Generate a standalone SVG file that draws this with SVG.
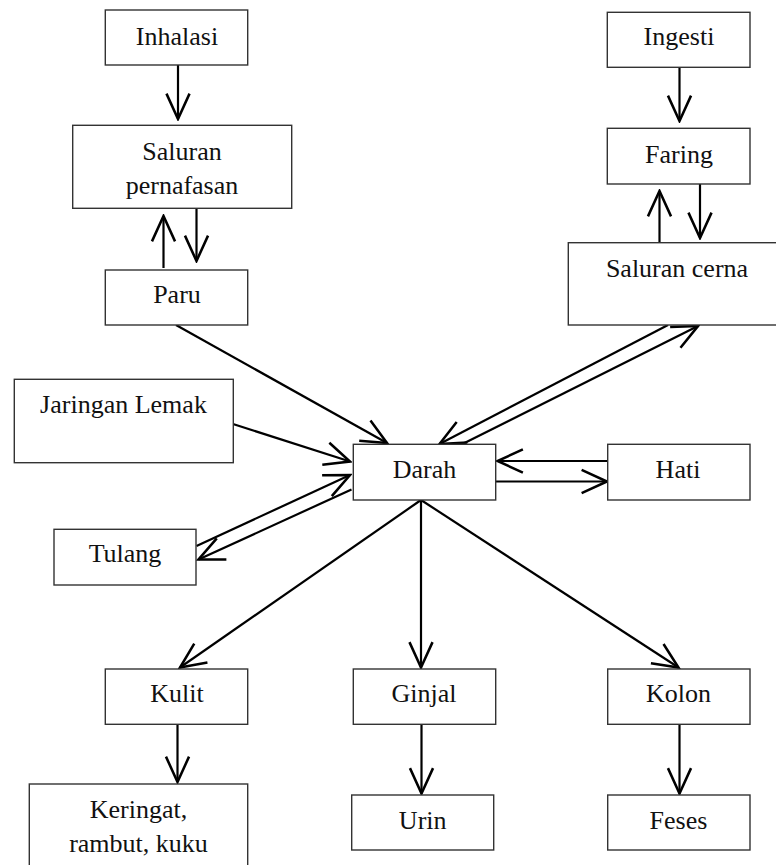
<svg xmlns="http://www.w3.org/2000/svg" width="776" height="865" viewBox="0 0 776 865">
  <style>
    .box { fill: #ffffff; stroke: #333333; stroke-width: 1.4; }
    text.lbl { font-family: "Liberation Serif", "Times New Roman", serif !important; font-size: 26px; fill: #111111; text-anchor: middle; }
    .arr { fill: none; stroke: #000000; stroke-width: 2.2; marker-end: url(#head); }
  </style>
  <defs>
    <marker id="head" markerUnits="userSpaceOnUse" markerWidth="30" markerHeight="30" viewBox="-24 -12 26 24" refX="0" refY="0" orient="auto">
      <path d="M-22,-10 L0,0 L-22,10" fill="none" stroke="#000000" stroke-width="2.2"/>
    </marker>
  </defs>
  <rect width="776" height="865" fill="#ffffff"/>

  <g id="connectors">
    <line class="arr" x1="178" y1="65" x2="178" y2="119"/>
    <line class="arr" x1="163.5" y1="268" x2="163.5" y2="216"/>
    <line class="arr" x1="196.5" y1="208" x2="196.5" y2="261"/>
    <line class="arr" x1="679.5" y1="67" x2="679.5" y2="121"/>
    <line class="arr" x1="659.5" y1="243" x2="659.5" y2="191"/>
    <line class="arr" x1="700" y1="184" x2="700" y2="238"/>
    <line class="arr" x1="176" y1="325" x2="387" y2="443"/>
    <line class="arr" x1="233" y1="424" x2="350" y2="461.5"/>
    <line class="arr" x1="196.5" y1="546" x2="350" y2="475"/>
    <line class="arr" x1="351.5" y1="489.5" x2="198.5" y2="559.5"/>
    <line class="arr" x1="668" y1="325" x2="439.5" y2="444"/>
    <line class="arr" x1="462.5" y1="444" x2="698" y2="326"/>
    <line class="arr" x1="607.5" y1="461" x2="497.5" y2="461"/>
    <line class="arr" x1="495.5" y1="481.5" x2="607" y2="481.5"/>
    <line class="arr" x1="421" y1="500" x2="180" y2="667.5"/>
    <line class="arr" x1="421" y1="500" x2="421" y2="667.5"/>
    <line class="arr" x1="421" y1="500" x2="678.5" y2="667.5"/>
    <line class="arr" x1="177.5" y1="724.5" x2="177.5" y2="782"/>
    <line class="arr" x1="421.5" y1="724.5" x2="421.5" y2="793.5"/>
    <line class="arr" x1="679.5" y1="724.5" x2="679.5" y2="793.5"/>
  </g>

  <g id="inhalasi">
    <rect class="box" x="105.3" y="10" width="142.4" height="55"/>
    <text class="lbl" font-family="Liberation Serif, serif" x="177" y="45">Inhalasi</text>
  </g>
  <g id="saluran-pernafasan">
    <rect class="box" x="72.7" y="125.3" width="219" height="83"/>
    <text class="lbl" x="182" y="160">Saluran</text>
    <text class="lbl" x="182" y="194">pernafasan</text>
  </g>
  <g id="paru">
    <rect class="box" x="105.3" y="270" width="142.4" height="55"/>
    <text class="lbl" x="177" y="303">Paru</text>
  </g>
  <g id="ingesti">
    <rect class="box" x="607.3" y="12.3" width="142.7" height="55"/>
    <text class="lbl" x="679" y="45">Ingesti</text>
  </g>
  <g id="faring">
    <rect class="box" x="607.3" y="128.3" width="142.7" height="55.7"/>
    <text class="lbl" x="679" y="163">Faring</text>
  </g>
  <g id="saluran-cerna">
    <rect class="box" x="568.3" y="242.7" width="210" height="82.3"/>
    <text class="lbl" x="677" y="277">Saluran cerna</text>
  </g>
  <g id="jaringan-lemak">
    <rect class="box" x="14.3" y="379.3" width="219" height="83.4"/>
    <text class="lbl" x="123.5" y="413">Jaringan Lemak</text>
  </g>
  <g id="darah">
    <rect class="box" x="353.3" y="444.3" width="142.4" height="55.7"/>
    <text class="lbl" x="424.5" y="478">Darah</text>
  </g>
  <g id="hati">
    <rect class="box" x="607.7" y="444.3" width="142.3" height="55.7"/>
    <text class="lbl" x="678" y="478">Hati</text>
  </g>
  <g id="tulang">
    <rect class="box" x="54" y="529.3" width="142" height="55.7"/>
    <text class="lbl" x="125" y="562">Tulang</text>
  </g>
  <g id="kulit">
    <rect class="box" x="105.3" y="669" width="142.4" height="55.3"/>
    <text class="lbl" x="177" y="702">Kulit</text>
  </g>
  <g id="ginjal">
    <rect class="box" x="353.3" y="669" width="142.4" height="55.3"/>
    <text class="lbl" x="424" y="702">Ginjal</text>
  </g>
  <g id="kolon">
    <rect class="box" x="607.7" y="669" width="142.3" height="55.3"/>
    <text class="lbl" x="678.5" y="702">Kolon</text>
  </g>
  <g id="keringat">
    <rect class="box" x="29.3" y="784" width="218.4" height="90"/>
    <text class="lbl" x="138.5" y="818">Keringat,</text>
    <text class="lbl" x="138.5" y="852">rambut, kuku</text>
  </g>
  <g id="urin">
    <rect class="box" x="351.7" y="795" width="142" height="55"/>
    <text class="lbl" x="422.7" y="829">Urin</text>
  </g>
  <g id="feses">
    <rect class="box" x="607.7" y="795" width="142.3" height="55"/>
    <text class="lbl" x="678.5" y="829">Feses</text>
  </g>
</svg>
